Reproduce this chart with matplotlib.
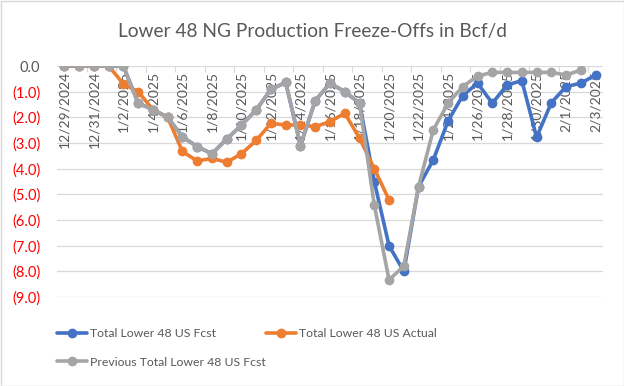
import matplotlib
matplotlib.use("Agg")
import matplotlib.pyplot as plt
from matplotlib.patches import Rectangle
from matplotlib.ticker import FuncFormatter, FixedLocator
import numpy as np
import pandas as pd

plt.rcParams['font.family'] = ['Lato', 'DejaVu Sans']

dates = pd.date_range("2024-12-29", "2025-02-03", freq="D")

# freeze-offs in Bcf/d (negative = lost production)
fcst = [0, 0, 0, 0, 0, -1.45, -1.7, -2.0, -2.76, -3.14, -3.42, -2.85, -2.3,
        -1.71, -0.91, -0.64, -3.1, -1.35, -0.67, -1.0, -1.45, -4.5, -7.0,
        -8.0, -4.7, -3.66, -2.14, -1.15, -0.67, -1.45, -0.74, -0.57, -2.78,
        -1.43, -0.8, -0.67, -0.35]
actual = [0, 0, 0, 0, -0.7, -1.0, -1.7, -2.0, -3.33, -3.7, -3.6, -3.75, -3.42,
          -2.9, -2.23, -2.3, -2.3, -2.36, -2.17, -1.84, -2.81, -4.0, -5.21]
previous = [0, 0, 0, 0, 0, -1.45, -1.7, -2.0, -2.76, -3.14, -3.42, -2.85, -2.3,
            -1.71, -0.91, -0.64, -3.1, -1.35, -0.67, -1.0, -1.45, -5.41, -8.33,
            -7.8, -4.7, -2.49, -1.45, -0.8, -0.39, -0.25, -0.25, -0.25, -0.25,
            -0.25, -0.35, -0.16]

BLUE = "#4472C4"
ORANGE = "#ED7D31"
GRAY = "#A5A5A5"
TXT = "#595959"

fig = plt.figure(figsize=(6.24, 3.86), dpi=100)
ax = fig.add_axes([57/624, 1 - 297/386, (603-57)/624, (297-66)/386])

x = np.arange(len(dates))
kw = dict(lw=2.6, marker="o", ms=6, solid_capstyle="round")
h1, = ax.plot(x, fcst, color=BLUE, label="Total Lower 48 US Fcst", **kw)
h2, = ax.plot(x[:len(actual)], actual, color=ORANGE, label="Total Lower 48 US Actual", **kw)
h3, = ax.plot(x[:len(previous)], previous, color=GRAY, label="Previous Total Lower 48 US Fcst", **kw)

ax.set_xlim(-0.5, len(dates) - 0.5)
ax.set_ylim(-9, 0)
ax.set_yticks(np.arange(-9, 1, 1))
ax.yaxis.grid(True, color="#D9D9D9", lw=0.9)
ax.set_axisbelow(True)
for s in ax.spines.values():
    s.set_visible(False)


def yfmt(v, pos):
    return "0.0" if abs(v) < 1e-9 else f"({abs(v):.1f})"


ax.yaxis.set_major_formatter(FuncFormatter(yfmt))
ax.tick_params(axis="y", length=0, pad=12, labelsize=10.5)
for lab, v in zip(ax.get_yticklabels(), ax.get_yticks()):
    lab.set_color(TXT if abs(v) < 1e-9 else "red")

# category axis sits on the zero line at the top
ax.xaxis.set_major_locator(FixedLocator(np.arange(1.5, len(dates), 2)))
ax.xaxis.tick_top()
ax.tick_params(axis="x", direction="in", length=4, color="#D9D9D9", labeltop=False)
for i in range(0, len(dates), 2):
    d = dates[i]
    ax.text(i, -0.2, f"{d.month}/{d.day}/{d.year}", rotation=90, ha="center",
            va="top", fontsize=10, color=TXT, zorder=1)

fig.suptitle("Lower 48 NG Production Freeze-Offs in Bcf/d", y=0.94,
             fontsize=13.8, color=TXT)

fig.legend([h1, h3, h2], [h1.get_label(), h3.get_label(), h2.get_label()],
           loc="upper left", bbox_to_anchor=(46/624, 1 - 317/386), ncol=2,
           frameon=False, fontsize=8.8, labelcolor=TXT, handlelength=2.45,
           handletextpad=0.25, columnspacing=0.05, labelspacing=1.45)

fig.add_artist(Rectangle((0.5/624, 0.5/386), 1 - 1/624, 1 - 1/386,
                         transform=fig.transFigure, fill=False,
                         edgecolor="#D9D9D9", lw=1))

fig.savefig("out.png", dpi=100)
